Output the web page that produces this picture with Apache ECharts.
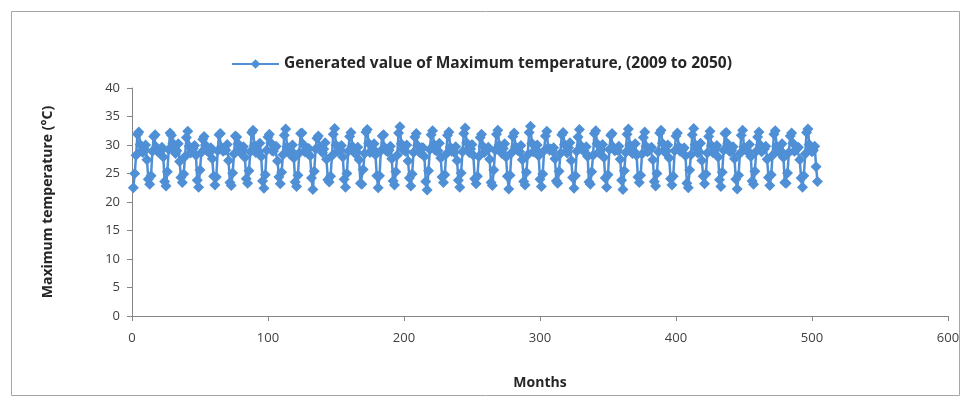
<!DOCTYPE html>
<html>
<head>
<meta charset="utf-8">
<script src="https://cdn.jsdelivr.net/npm/echarts@6/dist/echarts.min.js"></script>
<style>html,body{margin:0;padding:0;background:#fff}#c{width:968px;height:401px}</style>
</head>
<body>
<div id="c"></div>
<script>
const seriesName = 'Generated value of Maximum temperature, (2009 to 2050)';
const xTicks = [0, 100, 200, 300, 400, 500, 600];
const yTicks = [0, 5, 10, 15, 20, 25, 30, 35, 40];
const y2009 = [22.5,25.0,28.2,31.9,32.3,30.1,29.0,28.7,29.3,30.0,27.4,24.0];
const y2010 = [23.1,24.6,28.9,31.5,31.8,29.6,28.8,29.1,28.9,29.6,27.9,23.6];
const y2011 = [22.8,25.3,29.2,32.1,31.7,30.3,29.2,28.5,29.0,30.2,27.1,24.3];
const y2012 = [23.4,24.9,28.0,31.3,32.4,29.8,28.6,29.0,29.4,29.9,28.2,23.8];
const y2013 = [22.6,25.6,28.7,31.0,31.5,30.0,29.1,28.8,28.7,29.5,27.6,24.5];
const y2014 = [23.0,24.4,29.0,31.8,32.0,29.5,28.9,29.3,29.1,30.1,27.3,23.4];
const y2015 = [22.9,25.1,28.4,31.6,31.4,30.2,29.3,28.6,29.2,29.7,27.8,24.1];
const y2016 = [23.3,25.5,28.8,32.2,32.6,29.9,28.7,29.0,28.8,30.3,28.0,23.7];
const y2017 = [22.4,24.8,29.1,31.4,31.9,30.4,29.0,28.9,29.5,29.8,27.2,24.4];
const y2018 = [23.2,25.2,28.3,31.7,32.8,29.7,29.2,28.4,29.0,30.0,27.7,23.5];
const y2019 = [22.7,24.7,28.6,32.0,32.1,30.1,28.8,29.2,28.6,29.4,28.1,24.2];
const y2020 = [22.2,25.4,29.3,31.2,31.6,29.6,29.1,28.7,29.3,30.4,27.5,23.9];
const y2021 = [23.5,24.5,28.1,31.9,32.9,30.0,28.9,29.1,29.2,29.9,27.9,24.0];
const y2022 = [22.6,25.0,28.9,31.5,32.2,29.8,29.3,28.5,28.8,29.6,27.4,23.3];
const y2023 = [23.1,25.7,28.5,32.3,32.7,30.3,28.7,29.0,29.4,30.2,28.3,24.6];
const y2024 = [22.5,24.6,29.0,31.6,31.8,29.5,29.0,28.8,29.1,29.8,27.6,23.7];
const y2025 = [23.0,25.3,28.2,32.1,33.2,30.2,29.2,29.3,28.9,30.0,27.2,24.2];
const y2026 = [22.8,24.9,28.7,31.4,32.0,29.9,28.8,28.6,29.5,29.5,28.0,23.6];
const y2027 = [22.1,25.5,29.2,31.8,32.5,30.1,29.1,29.0,29.0,30.3,27.7,24.4];
const y2028 = [23.4,24.8,28.4,31.7,32.3,29.6,28.9,29.2,28.7,29.7,27.3,23.8];
const y2029 = [22.6,25.1,28.8,32.0,33.0,30.4,29.3,28.7,29.3,30.1,28.2,24.1];
const y2030 = [23.2,24.5,28.0,31.3,31.9,29.8,28.7,29.1,29.1,29.6,27.5,23.4];
const y2031 = [22.9,25.6,29.1,31.9,32.6,30.0,29.0,28.5,29.4,30.2,27.9,24.5];
const y2032 = [22.3,24.7,28.6,31.5,32.1,29.7,29.2,29.0,28.8,29.9,27.4,23.6];
const y2033 = [23.0,25.2,28.3,32.2,33.3,30.3,28.8,28.9,29.2,30.0,28.1,24.0];
const y2034 = [22.7,24.9,29.0,31.6,32.4,29.5,29.1,29.3,29.0,29.5,27.6,23.7];
const y2035 = [23.3,25.4,28.5,31.8,32.2,30.1,28.9,28.6,29.5,30.4,27.3,24.3];
const y2036 = [22.4,24.6,28.9,31.4,32.7,29.9,29.3,29.1,28.7,29.7,28.0,23.5];
const y2037 = [23.1,25.3,28.2,32.0,32.5,30.2,28.7,28.8,29.3,30.1,27.8,24.2];
const y2038 = [22.6,24.8,29.2,31.7,32.0,29.6,29.0,29.2,29.1,29.8,27.5,23.8];
const y2039 = [22.2,25.5,28.7,31.9,32.8,30.0,29.2,28.5,28.9,30.2,28.2,24.4];
const y2040 = [23.4,24.7,28.4,31.3,32.3,29.8,28.8,29.0,29.4,29.6,27.4,23.6];
const y2041 = [22.8,25.0,28.8,32.1,32.6,30.3,29.1,28.7,29.0,30.0,27.7,24.1];
const y2042 = [23.0,24.5,29.0,31.6,32.1,29.7,28.9,29.3,29.2,29.5,28.1,23.3];
const y2043 = [22.5,25.6,28.3,31.8,32.9,30.1,29.3,28.6,28.8,30.3,27.3,24.5];
const y2044 = [23.2,24.9,28.6,31.5,32.4,29.9,28.7,29.1,29.5,29.9,27.9,23.9];
const y2045 = [22.7,25.2,29.1,32.0,32.2,30.2,29.0,28.8,29.1,29.7,27.6,24.0];
const y2046 = [22.3,24.7,28.5,31.7,32.6,29.6,29.2,29.0,28.9,30.1,28.0,23.7];
const y2047 = [23.1,25.4,28.9,31.4,32.3,30.0,28.8,29.2,29.3,29.8,27.5,24.3];
const y2048 = [22.9,24.8,28.2,31.9,32.5,29.8,29.1,28.7,29.0,30.2,27.8,23.4];
const y2049 = [23.3,25.1,28.7,31.6,32.1,30.3,28.9,29.1,29.4,29.6,27.4,24.2];
const y2050 = [22.6,24.6,28.4,32.2,32.8,30.1,29.2,28.8,29.1,29.8,26.2,23.6];

const years = [y2009,y2010,y2011,y2012,y2013,y2014,y2015,y2016,y2017,y2018,y2019,y2020,y2021,y2022,
  y2023,y2024,y2025,y2026,y2027,y2028,y2029,y2030,y2031,y2032,y2033,y2034,y2035,y2036,y2037,y2038,
  y2039,y2040,y2041,y2042,y2043,y2044,y2045,y2046,y2047,y2048,y2049,y2050];
const values = [].concat(...years);
const data = values.map((v, i) => [i + 1, v]);

const font = '"Open Sans", "Liberation Sans", sans-serif';
const blue = '#4f8fd6';
const chart = echarts.init(document.getElementById('c'), null, {renderer: 'canvas'});
chart.setOption({
  animation: false,
  backgroundColor: '#fff',
  graphic: [{
    type: 'rect', left: 9, top: 9, silent: true,
    shape: {width: 948, height: 384},
    style: {fill: 'none', stroke: '#a6a6a6', lineWidth: 1}
  }],
  legend: {
    top: 51, left: 226,
    itemWidth: 47, itemHeight: 12, itemGap: 6,
    textStyle: {fontFamily: font, fontSize: 15.5, fontWeight: 'bold', color: '#262626'},
    data: [{name: seriesName}]
  },
  grid: {left: 132, right: 20, top: 88, bottom: 85},
  xAxis: {
    type: 'value', min: xTicks[0], max: xTicks[xTicks.length - 1], interval: 100,
    name: 'Months', nameLocation: 'middle', nameGap: 60,
    nameTextStyle: {fontFamily: font, fontSize: 14, fontWeight: 'bold', color: '#262626'},
    axisLine: {lineStyle: {color: '#868686'}},
    axisTick: {show: true, inside: false, length: 5, lineStyle: {color: '#868686'}},
    axisLabel: {fontFamily: font, fontSize: 13, color: '#404040', margin: 16},
    splitLine: {show: false}
  },
  yAxis: {
    type: 'value', min: yTicks[0], max: yTicks[yTicks.length - 1], interval: 5,
    name: 'Maximum temperature (°C)', nameLocation: 'middle', nameGap: 77,
    nameTextStyle: {fontFamily: font, fontSize: 14, fontWeight: 'bold', color: '#262626'},
    axisLine: {show: true, lineStyle: {color: '#868686'}},
    axisTick: {show: true, inside: false, length: 5, lineStyle: {color: '#868686'}},
    axisLabel: {fontFamily: font, fontSize: 13, color: '#404040', margin: 12},
    splitLine: {show: false}
  },
  series: [{
    name: seriesName, type: 'line', data: data,
    symbol: 'diamond', symbolSize: 11, showAllSymbol: true,
    lineStyle: {color: blue, width: 2.5},
    itemStyle: {color: blue, borderWidth: 0}
  }]
});
</script>
</body>
</html>
